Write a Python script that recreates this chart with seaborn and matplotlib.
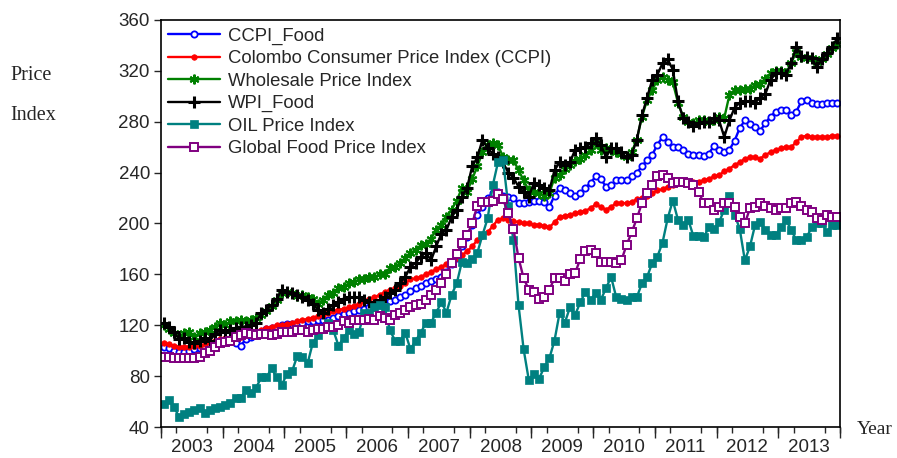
import numpy as np
import pandas as pd
import matplotlib
matplotlib.use("Agg")
import matplotlib.pyplot as plt
import seaborn as sns

# monthly values, Jan 2003 - Dec 2013
ccpi_food = [103, 102, 100, 99, 99, 100, 101, 102, 103, 104, 106, 107,
             108, 109, 106, 104, 109, 111, 113, 115, 117, 118, 119, 120,
             121, 121, 122, 122, 123, 123, 124, 124, 124, 126, 127, 129,
             130, 131, 132, 133, 134, 135, 136, 138, 139, 140, 142, 144,
             147, 149, 151, 153, 155, 156, 158, 162, 168, 173, 182, 189,
             199, 207, 213, 220, 224, 225, 222, 221, 220, 216, 216, 217,
             218, 218, 217, 213, 222, 228, 226, 224, 222, 224, 228, 232,
             237, 235, 229, 230, 234, 234, 234, 237, 240, 245, 250, 254,
             262, 268, 264, 260, 260, 258, 255, 254, 254, 253, 255, 261,
             258, 256, 258, 265, 275, 281, 278, 276, 273, 279, 284, 288,
             289, 289, 285, 288, 296, 297, 295, 294, 294, 295, 295, 295]

ccpi = [106, 105, 104, 103, 103, 103, 104, 104, 105, 107, 108, 109,
        110, 110, 111, 111, 112, 114, 115, 116, 118, 119, 120, 120,
        121, 122, 123, 124, 125, 126, 127, 128, 130, 131, 132, 133,
        134, 135, 137, 139, 141, 142, 144, 146, 148, 149, 151, 153,
        156, 157, 158, 160, 162, 164, 166, 168, 170, 173, 175, 178,
        182, 187, 190, 193, 198, 203, 204, 203, 202, 201, 200, 200,
        199, 199, 198, 197, 201, 205, 206, 207, 208, 209, 210, 212,
        215, 213, 211, 213, 216, 216, 216, 217, 219, 220, 222, 224,
        226, 227, 229, 230, 232, 232, 232, 233, 233, 234, 235, 237,
        238, 241, 243, 246, 248, 251, 252, 252, 251, 254, 256, 258,
        259, 260, 260, 264, 268, 269, 268, 268, 268, 268, 269, 269]

wpi = [120, 117, 114, 111, 114, 115, 111, 114, 115, 116, 119, 122,
       120, 123, 123, 124, 123, 124, 126, 128, 131, 135, 140, 145,
       146, 145, 143, 144, 142, 141, 137, 140, 144, 145, 149, 150,
       153, 154, 156, 156, 158, 158, 160, 160, 165, 166, 169, 173,
       177, 179, 183, 184, 188, 195, 199, 205, 211, 218, 228, 225,
       235, 245, 256, 262, 263, 262, 252, 250, 250, 242, 234, 226,
       225, 224, 222, 224, 236, 238, 243, 246, 249, 251, 254, 258,
       263, 258, 259, 258, 256, 255, 252, 256, 266, 284, 297, 305,
       313, 315, 313, 311, 295, 284, 280, 279, 281, 281, 280, 281,
       284, 283, 301, 305, 305, 306, 306, 309, 310, 314, 318, 320,
       320, 318, 326, 335, 331, 330, 330, 327, 329, 333, 338, 341]

wpi_food = [122, 119, 115, 109, 110, 107, 106, 108, 110, 108, 113, 116,
            115, 116, 118, 119, 119, 120, 122, 130, 132, 136, 141, 148,
            146, 145, 144, 142, 140, 137, 132, 130, 133, 136, 138, 141,
            142, 142, 142, 140, 138, 136, 140, 142, 145, 148, 153, 158,
            166, 169, 174, 177, 171, 182, 192, 195, 205, 211, 221, 228,
            245, 252, 266, 259, 255, 252, 248, 240, 236, 229, 225, 221,
            232, 230, 228, 226, 242, 248, 246, 248, 258, 259, 260, 263,
            267, 262, 252, 259, 259, 256, 252, 254, 266, 285, 299, 313,
            317, 326, 329, 321, 296, 283, 280, 277, 279, 280, 280, 283,
            281, 268, 281, 291, 295, 296, 296, 295, 299, 302, 313, 318,
            318, 317, 326, 339, 332, 331, 330, 323, 329, 334, 339, 346]

oil = [58, 61, 56, 48, 50, 52, 53, 55, 51, 53, 55, 56,
       57, 59, 63, 63, 69, 67, 71, 79, 79, 86, 79, 73,
       82, 84, 96, 95, 90, 106, 112, 118, 122, 116, 104, 110,
       116, 113, 115, 130, 130, 134, 136, 134, 116, 108, 108, 114,
       101, 108, 114, 122, 122, 130, 138, 130, 144, 153, 170, 169,
       172, 177, 191, 204, 230, 248, 250, 214, 187, 136, 101, 77,
       82, 78, 87, 94, 108, 130, 122, 134, 128, 138, 146, 140,
       145, 140, 149, 158, 142, 141, 140, 142, 142, 153, 158, 169,
       174, 185, 204, 218, 203, 199, 203, 190, 190, 189, 197, 196,
       201, 211, 222, 207, 196, 171, 182, 199, 201, 195, 191, 191,
       197, 203, 195, 187, 187, 189, 197, 200, 200, 193, 199, 199]

global_food = [95, 95, 94, 94, 94, 94, 94, 95, 98, 100, 103, 106,
               107, 108, 111, 112, 114, 113, 112, 113, 113, 112, 113, 115,
               115, 115, 116, 116, 115, 116, 117, 117, 119, 119, 120, 123,
               122, 124, 124, 124, 125, 124, 127, 126, 124, 128, 130, 132,
               134, 136, 137, 140, 144, 148, 153, 160, 169, 176, 185, 191,
               200, 214, 217, 217, 218, 223, 219, 208, 196, 173, 157, 148,
               146, 141, 142, 148, 157, 157, 155, 160, 161, 172, 178, 179,
               177, 170, 170, 170, 169, 171, 183, 193, 204, 216, 224, 230,
               237, 238, 236, 232, 233, 233, 232, 230, 225, 216, 216, 211,
               213, 216, 216, 213, 205, 200, 212, 213, 216, 214, 212, 211,
               212, 212, 216, 217, 214, 211, 209, 204, 203, 207, 205, 205]

years = [str(y) for y in range(2003, 2014)]
y_ticks = list(range(40, 361, 40))

df = pd.DataFrame({
    "month": np.arange(len(ccpi)),
    "CCPI_Food": ccpi_food,
    "Colombo Consumer Price Index (CCPI)": ccpi,
    "Wholesale Price Index": wpi,
    "WPI_Food": wpi_food,
    "OIL Price Index": oil,
    "Global Food Price Index": global_food,
})

styles = {
    "CCPI_Food": dict(color="#0000ff", marker="o", ms=4.5, mfc="white", mew=1.3),
    "Colombo Consumer Price Index (CCPI)": dict(color="#ff0000", marker="o", ms=4, mfc="#ff0000", mew=0.5),
    "Wholesale Price Index": dict(color="#008000", marker=(6, 2, 0), ms=7, mew=1.5),
    "WPI_Food": dict(color="#000000", marker="+", ms=8, mew=2.2),
    "OIL Price Index": dict(color="#008080", marker="s", ms=5.5, mfc="#008080", mew=0.5),
    "Global Food Price Index": dict(color="#800080", marker="s", ms=6, mfc="white", mew=1.4),
}

sns.set_style("ticks")
plt.rcParams['font.family'] = ['Liberation Sans', 'DejaVu Sans']

fig = plt.figure(figsize=(8.97, 4.58), dpi=100)
ax = fig.add_axes([161 / 897, 1 - 427 / 458, (840 - 161) / 897, (427 - 20) / 458])

for name, st in styles.items():
    sns.lineplot(data=df, x="month", y=name, ax=ax, label=name, lw=1.7,
                 color=st["color"], marker=st["marker"], markersize=st["ms"],
                 markerfacecolor=st.get("mfc", st["color"]),
                 markeredgecolor=st["color"], markeredgewidth=st["mew"])

ax.set_xlim(-0.5, len(ccpi) - 0.5)
ax.set_ylim(40, 360)
ax.set_yticks(y_ticks)
ax.tick_params(axis="y", labelsize=13.5, length=5, width=1, direction="out", pad=3)

# year labels centred in each year, tick marks on year / quarter boundaries
ax.set_xticks([12 * k + 5.5 for k in range(len(years))], labels=years)
ax.set_xticks(np.arange(-0.5, len(ccpi), 3), minor=True)
ax.tick_params(axis="x", which="major", length=0, labelsize=13.5, pad=9)
ax.tick_params(axis="x", which="minor", length=4, width=1, direction="out")
sec = ax.secondary_xaxis("bottom")
sec.set_xticks([12 * k - 0.5 for k in range(len(years) + 1)])
sec.tick_params(length=8, width=1, labelbottom=False)
sec.spines["bottom"].set_visible(False)

ax.set_xlabel("")
ax.set_ylabel("")
for s in ax.spines.values():
    s.set_linewidth(1.2)
    s.set_color("black")

leg = ax.legend(loc="upper left", bbox_to_anchor=(0, 1), frameon=False,
                fontsize=13.3, numpoints=1, handlelength=2.8, handletextpad=0.4,
                labelspacing=0.3, borderaxespad=0.2, borderpad=0.2)

fig.text(10 / 897, 1 - 75 / 458, "Price", family=["Liberation Serif"], fontsize=14.5, va="center")
fig.text(10 / 897, 1 - 115 / 458, "Index", family=["Liberation Serif"], fontsize=14.5, va="center")
fig.text(857 / 897, 1 - 430 / 458, "Year", family=["Liberation Serif"], fontsize=14, va="center")

fig.savefig("out.png", dpi=100)
